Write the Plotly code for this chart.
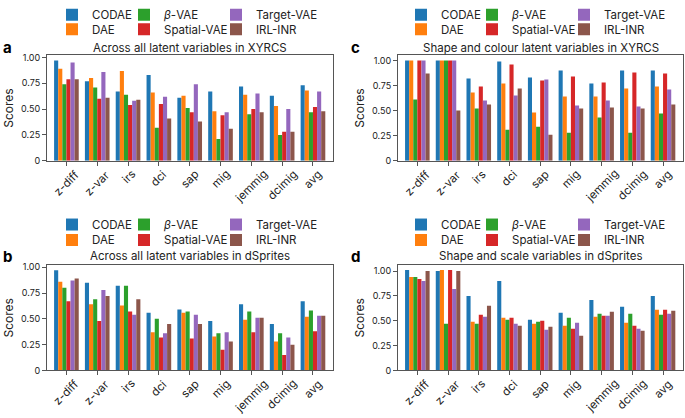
import plotly.graph_objects as go

W, H = 685, 418

metrics = ["z-diff", "z-var", "irs", "dci", "sap", "mig", "jemmig", "dcimig", "avg"]
methods = ["CODAE", "DAE", "<i>β</i>-VAE", "Spatial-VAE", "Target-VAE", "IRL-INR"]
colors = ["#1f77b4", "#ff7f0e", "#2ca02c", "#d62728", "#9467bd", "#8c564b"]

# panel a: Across all latent variables in XYRCS
a_codae = [0.97, 0.77, 0.67, 0.83, 0.61, 0.67, 0.72, 0.63, 0.73]
a_dae = [0.89, 0.80, 0.87, 0.66, 0.63, 0.48, 0.64, 0.53, 0.68]
a_beta = [0.74, 0.71, 0.64, 0.32, 0.51, 0.21, 0.45, 0.25, 0.47]
a_spatial = [0.79, 0.60, 0.54, 0.55, 0.47, 0.44, 0.50, 0.28, 0.52]
a_target = [0.95, 0.86, 0.58, 0.62, 0.74, 0.47, 0.65, 0.50, 0.67]
a_irl = [0.79, 0.61, 0.59, 0.41, 0.38, 0.31, 0.47, 0.28, 0.48]

# panel b: Across all latent variables in dSprites
b_codae = [0.97, 0.85, 0.82, 0.56, 0.59, 0.48, 0.64, 0.45, 0.67]
b_dae = [0.86, 0.64, 0.63, 0.37, 0.56, 0.33, 0.49, 0.28, 0.52]
b_beta = [0.80, 0.69, 0.82, 0.50, 0.57, 0.36, 0.57, 0.36, 0.58]
b_spatial = [0.67, 0.48, 0.57, 0.32, 0.31, 0.20, 0.37, 0.15, 0.38]
b_target = [0.87, 0.78, 0.54, 0.36, 0.54, 0.37, 0.51, 0.32, 0.53]
b_irl = [0.89, 0.72, 0.69, 0.45, 0.45, 0.28, 0.51, 0.25, 0.53]

# panel c: Shape and colour latent variables in XYRCS
c_codae = [1.00, 1.00, 0.82, 0.99, 0.83, 0.90, 0.77, 0.90, 0.90]
c_dae = [1.00, 1.00, 0.68, 0.77, 0.48, 0.64, 0.64, 0.72, 0.74]
c_beta = [0.61, 1.00, 0.52, 0.31, 0.34, 0.28, 0.43, 0.28, 0.47]
c_spatial = [1.00, 1.00, 0.74, 0.96, 0.80, 0.84, 0.78, 0.88, 0.87]
c_target = [1.00, 1.00, 0.60, 0.65, 0.81, 0.55, 0.60, 0.54, 0.71]
c_irl = [0.87, 0.50, 0.56, 0.72, 0.26, 0.52, 0.53, 0.52, 0.56]

# panel d: Shape and scale variables in dSprites
d_codae = [1.01, 1.00, 0.75, 0.90, 0.51, 0.58, 0.71, 0.64, 0.75]
d_dae = [0.94, 1.01, 0.49, 0.53, 0.47, 0.45, 0.54, 0.48, 0.61]
d_beta = [0.94, 0.47, 0.47, 0.51, 0.49, 0.53, 0.57, 0.57, 0.56]
d_spatial = [0.92, 1.01, 0.56, 0.53, 0.50, 0.42, 0.55, 0.45, 0.61]
d_target = [0.90, 0.82, 0.54, 0.47, 0.41, 0.48, 0.55, 0.42, 0.57]
d_irl = [1.00, 1.00, 0.65, 0.45, 0.44, 0.35, 0.59, 0.40, 0.60]

titles = [
    "Across all latent variables in XYRCS",
    "Across all latent variables in dSprites",
    "Shape and colour latent variables in XYRCS",
    "Shape and scale variables in dSprites",
]
letters = ["a", "b", "c", "d"]
ytick_vals = [0, 0.25, 0.5, 0.75, 1.0]
ytick_text = ["0", "0.25", "0.50", "0.75", "1.00"]

panels = [
    [a_codae, a_dae, a_beta, a_spatial, a_target, a_irl],
    [b_codae, b_dae, b_beta, b_spatial, b_target, b_irl],
    [c_codae, c_dae, c_beta, c_spatial, c_target, c_irl],
    [d_codae, d_dae, d_beta, d_spatial, d_target, d_irl],
]

FONT = "Inter"
AX = "#555555"
TXT = "#222222"

def px_x(v):
    return v / W

def px_y(v):
    return 1 - v / H

# panel geometry in pixels: (x0, x1, ytop, ybottom, ymax)
geo = [
    (47, 333, 48, 157, 1.02),
    (47, 333, 265, 374, 1.02),
    (398, 683, 48, 157, 1.05),
    (398, 683, 265, 374, 1.06),
]
leg_cols = [[52, 124, 216], [52, 124, 216], [401, 472, 564], [401, 472, 564]]
leg_rows = [[6, 21], [223, 239], [6, 21], [223, 239]]
item_pos = [(0, 0), (0, 1), (1, 0), (1, 1), (2, 0), (2, 1)]

fig = go.Figure()
layout = dict(
    width=W, height=H, autosize=False,
    margin=dict(l=0, r=0, t=0, b=0),
    paper_bgcolor="white", plot_bgcolor="white",
    barmode="group", bargap=0.2, bargroupgap=0,
    font=dict(family=FONT, size=10, color=TXT),
    annotations=[],
)

leg_n = 0
for p in range(4):
    x0, x1, yt, yb, ymax = geo[p]
    xa = "x" if p == 0 else f"x{p+1}"
    ya = "y" if p == 0 else f"y{p+1}"
    xkey = "xaxis" if p == 0 else f"xaxis{p+1}"
    ykey = "yaxis" if p == 0 else f"yaxis{p+1}"
    for m in range(6):
        leg_n += 1
        lkey = "legend" if leg_n == 1 else f"legend{leg_n}"
        fig.add_trace(go.Bar(
            x=metrics, y=panels[p][m], name=methods[m],
            marker=dict(color=colors[m], line=dict(width=0)),
            xaxis=xa, yaxis=ya, legend=lkey, showlegend=True,
            offsetgroup=str(m),
        ))
        c, r = item_pos[m]
        layout[lkey] = dict(
            x=px_x(leg_cols[p][c]), y=px_y(leg_rows[p][r]),
            xref="paper", yref="paper", xanchor="left", yanchor="middle",
            orientation="v", bgcolor="rgba(0,0,0,0)", borderwidth=0,
            font=dict(family=FONT, size=11.5, color=TXT),
        )
    layout[xkey] = dict(
        domain=[px_x(x0), px_x(x1)], anchor=ya,
        type="category", range=[-0.63, 8.65],
        showline=True, linecolor=AX, linewidth=1, mirror=True,
        ticks="outside", ticklen=4, tickcolor=AX, tickwidth=1,
        showticklabels=False,
        showgrid=False, zeroline=False, fixedrange=True,
    )
    layout[ykey] = dict(
        domain=[px_y(yb), px_y(yt)], anchor=xa,
        range=[0, ymax],
        tickvals=ytick_vals, ticktext=ytick_text,
        showline=True, linecolor=AX, linewidth=1, mirror=True,
        ticks="outside", ticklen=4, tickcolor=AX, tickwidth=1,
        tickfont=dict(family=FONT, size=9, color=TXT),
        showgrid=False, zeroline=False, fixedrange=True,
        title=dict(text="Scores", font=dict(family=FONT, size=12, color=TXT), standoff=4),
    )
    # rotated category labels, centred on their ticks (bounding box centred)
    for name in metrics:
        layout["annotations"].append(dict(
            text=name, x=name, xref=xa, y=px_y(yb + 5), yref="paper",
            xanchor="center", yanchor="top", textangle=-45, showarrow=False,
            borderpad=0,
            font=dict(family=FONT, size=11.5, color=TXT),
        ))
    cx = (x0 + x1) / 2
    ty = 40 if p in (0, 2) else 256
    layout["annotations"].append(dict(
        text=titles[p], x=px_x(cx), y=px_y(ty), xref="paper", yref="paper",
        xanchor="center", yanchor="middle", showarrow=False,
        font=dict(family=FONT, size=11.5, color=TXT),
    ))
    lx = 1 if p in (0, 1) else 349
    layout["annotations"].append(dict(
        text=f"<b>{letters[p]}</b>", x=px_x(lx), y=px_y(ty), xref="paper", yref="paper",
        xanchor="left", yanchor="middle", showarrow=False,
        font=dict(family=FONT, size=15, color="#000000"),
    ))

fig.update_layout(**layout)
fig.write_html(
    "out.html",
    config=dict(displayModeBar=False, staticPlot=True),
    post_script="document.body.style.margin='0';document.body.style.overflow='hidden';",
)
